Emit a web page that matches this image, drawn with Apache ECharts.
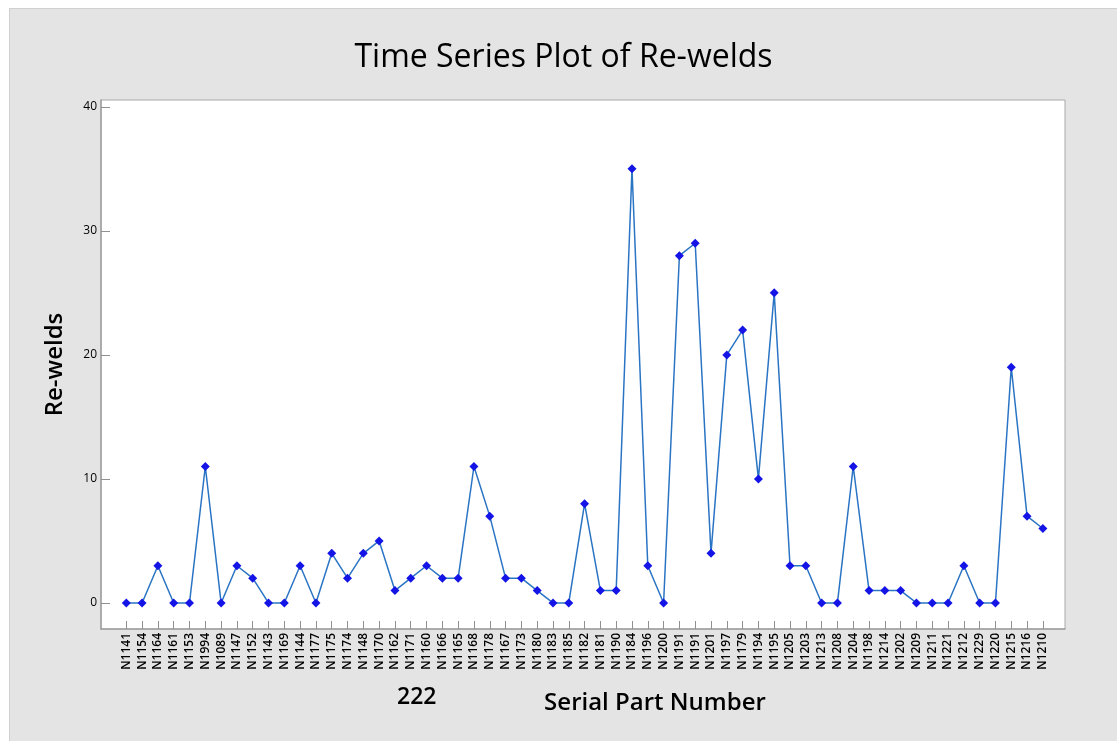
<!DOCTYPE html>
<html>
<head>
<meta charset="utf-8">
<title>Time Series Plot of Re-welds</title>
<script src="https://cdn.jsdelivr.net/npm/echarts@6/dist/echarts.min.js"></script>
<style>
html, body { margin: 0; background: #fff; }
#chart {
	position: absolute;
	left: 9px;
	top: 8px;
	width: 1108px;
	height: 733px;
	border-top: 1px solid #d0d0d0;
	border-left: 1px solid #d0d0d0;
	box-sizing: border-box;
}
</style>
</head>
<body>
<div id="chart"></div>
<script>
const partNumbers = [
	"N1141", "N1154", "N1164", "N1161", "N1153", "N1994", "N1089", "N1147", "N1152", "N1143",
	"N1169", "N1144", "N1177", "N1175", "N1174", "N1148", "N1170", "N1162", "N1171", "N1160",
	"N1166", "N1165", "N1168", "N1178", "N1167", "N1173", "N1180", "N1183", "N1185", "N1182",
	"N1181", "N1190", "N1184", "N1196", "N1200", "N1191", "N1191", "N1201", "N1197", "N1179",
	"N1194", "N1195", "N1205", "N1203", "N1213", "N1208", "N1204", "N1198", "N1214", "N1202",
	"N1209", "N1211", "N1221", "N1212", "N1229", "N1220", "N1215", "N1216", "N1210"
]
const rewelds = [
	0, 0, 3, 0, 0, 11, 0, 3, 2, 0,
	0, 3, 0, 4, 2, 4, 5, 1, 2, 3,
	2, 2, 11, 7, 2, 2, 1, 0, 0, 8,
	1, 1, 35, 3, 0, 28, 29, 4, 20, 22,
	10, 25, 3, 3, 0, 0, 11, 1, 1, 1,
	0, 0, 0, 3, 0, 0, 19, 7, 6
]
const yTicks = [0, 10, 20, 30, 40]

const chart = echarts.init(document.getElementById("chart"))

// x is a value axis so the first/last points can sit away from the frame like the original
const xTicks = partNumbers.map((n, i) => i)
const points = rewelds.map((v, i) => [i, v])

const font = "'Open Sans', 'Noto Sans', sans-serif"

chart.setOption({
	backgroundColor: "#e4e4e4",
	animation: false,
	title: {
		text: "Time Series Plot of Re-welds",
		left: "center",
		top: 28,
		textStyle: {
			fontFamily: font,
			fontSize: 32,
			fontWeight: "normal",
			color: "#000"
		}
	},
	graphic: [
		{
			type: "text",
			left: 387,
			top: 677,
			style: {
				text: "222",
				font: "600 23px " + font,
				fill: "#000"
			}
		}
	],
	grid: {
		left: 91,
		top: 91,
		right: 52,
		bottom: 112,
		show: true,
		backgroundColor: "#fff",
		borderColor: "#a8a8a8",
		borderWidth: 1
	},
	xAxis: {
		type: "value",
		min: -1.6,
		max: 59.4,
		name: "Serial Part Number",
		nameLocation: "middle",
		nameGap: 62,
		nameTextStyle: {
			fontFamily: font,
			fontSize: 24,
			fontWeight: 600,
			color: "#000",
			padding: [0, 0, 0, 144]
		},
		axisLine: { show: true, onZero: false, lineStyle: { color: "#a0a0a0", width: 1.5 } },
		axisTick: {
			show: true,
			inside: true,
			length: 8,
			customValues: xTicks,
			lineStyle: { color: "#909090" }
		},
		axisLabel: {
			rotate: 90,
			margin: 4,
			fontFamily: font,
			fontSize: 12,
			fontWeight: 600,
			color: "#000",
			customValues: xTicks,
			formatter: v => partNumbers[v]
		},
		splitLine: { show: false }
	},
	yAxis: {
		type: "value",
		min: -2.1,
		max: 40.55,
		name: "Re-welds",
		nameLocation: "middle",
		nameGap: 34,
		nameTextStyle: { fontFamily: font, fontSize: 24, fontWeight: 600, color: "#000" },
		axisLine: { show: true, onZero: false, lineStyle: { color: "#a0a0a0", width: 1.5 } },
		axisTick: {
			show: true,
			inside: true,
			length: 9,
			customValues: yTicks,
			lineStyle: { color: "#909090" }
		},
		axisLabel: {
			margin: 4,
			fontFamily: font,
			fontSize: 12,
			fontWeight: 500,
			color: "#000",
			customValues: yTicks
		},
		splitLine: { show: false }
	},
	series: [
		{
			name: "Re-welds",
			type: "line",
			data: points,
			symbol: "diamond",
			symbolSize: 9,
			lineStyle: { color: "#2a74c4", width: 1.5 },
			itemStyle: { color: "#1414e6" }
		}
	]
})
</script>
</body>
</html>
